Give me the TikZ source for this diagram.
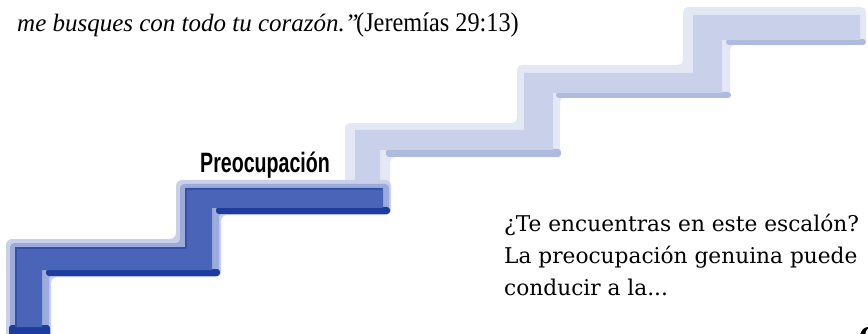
\documentclass[tikz,border=0pt]{standalone}
\usepackage{fontspec}
\setmainfont{DejaVu Serif}
\newfontfamily\quotefont{Liberation Serif}
\newfontfamily\refont[FakeStretch=0.9]{Liberation Serif}
\newfontfamily\labelfont[FakeStretch=0.7]{Liberation Sans}
\definecolor{dface}{HTML}{4A65B8}
\definecolor{dhalo}{HTML}{9DABDA}
\definecolor{dhaloout}{HTML}{C9D0EC}
\definecolor{dnavy}{HTML}{1E3C9E}
\definecolor{lface}{HTML}{C9D0EA}
\definecolor{lhalo}{HTML}{E4E8F5}
\definecolor{lshadow}{HTML}{AFBADF}
\tikzset{
  bodytext/.style={anchor=base west, inner sep=0pt, font=\fontsize{21.7}{30}\selectfont},
}
\begin{document}
\begin{tikzpicture}[x=1pt,y=-1pt]
\useasboundingbox (0,0) rectangle (868,334);
\clip (0,0) rectangle (868,334);
\fill[white] (0,0) rectangle (868,334);
% light (upper) staircase
\fill[lhalo, rounded corners=5pt] (345,195) -- (345,123) -- (517,123) -- (517,65) -- (683,65) -- (683,7) -- (866,7) -- (866,45) -- (730,45) -- (730,97) -- (560,97) -- (560,157) -- (390,157) -- (390,195) -- cycle;
\fill[lshadow, rounded corners=3pt] (386,149) rectangle (561,157);
\fill[lshadow, rounded corners=3pt] (556,92) rectangle (731,98);
\fill[lshadow, rounded corners=3pt] (726,39) rectangle (866,45);
\fill[lface] (355,195) -- (355,130) -- (524,130) -- (524,73) -- (693,73) -- (693,15) -- (860,15) -- (860,40) -- (722,40) -- (722,93) -- (553,93) -- (553,150) -- (380,150) -- (380,195) -- cycle;
% dark (lower) staircase
\fill[dhaloout, rounded corners=6pt] (6,345) -- (6,239) -- (176,239) -- (176,180) -- (391,180) -- (391,215) -- (221,215) -- (221,277) -- (51,277) -- (51,345) -- cycle;
\fill[dhalo, rounded corners=4pt] (10,345) -- (10,243) -- (180,243) -- (180,184) -- (389,184) -- (389,213) -- (219,213) -- (219,275) -- (49,275) -- (49,345) -- cycle;
\fill[dnavy, rounded corners=3pt] (46,269) rectangle (220,276);
\fill[dnavy, rounded corners=3pt] (216,207) rectangle (390,214);
\fill[dnavy, rounded corners=3pt] (9,325) rectangle (50,338);
\fill[dface] (15,327) -- (15,247) -- (185,247) -- (185,188) -- (383,188) -- (383,208) -- (212,208) -- (212,270) -- (42,270) -- (42,327) -- cycle;
\draw[dnavy!55!dface, line width=2pt] (16,327) -- (16,248) -- (186,248) -- (186,189) -- (382,189);
% texts
\node[anchor=base west, inner sep=0pt, font=\quotefont\itshape\fontsize{25}{30}\selectfont] (quote) at (17,32) {me busques con todo tu corazón.”};
\node[anchor=base west, inner sep=0pt, font=\refont\fontsize{27}{30}\selectfont] (ref) at (356,32) {(Jeremías 29:13)};
\node[anchor=base west, inner sep=0pt, font=\labelfont\bfseries\fontsize{28}{30}\selectfont] (label) at (200,173) {Preocupación};
\node[bodytext] (t1) at (504,232) {¿Te encuentras en este escalón?};
\node[bodytext] (t2) at (504,263) {La preocupación genuina puede};
\node[bodytext] (t3) at (504,295) {conducir a la...};
\node[anchor=north west, inner sep=0pt, font=\bfseries\fontsize{30}{30}\selectfont] (pg) at (858,327) {6};
\end{tikzpicture}
\end{document}
